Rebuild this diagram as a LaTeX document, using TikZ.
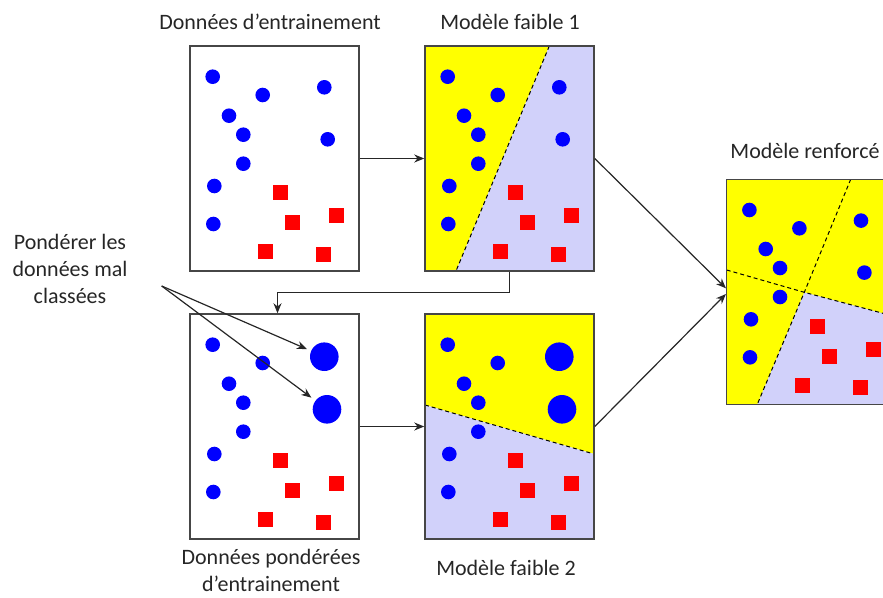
\documentclass[tikz,border=0pt]{standalone}
\usepackage{fontspec}
\setmainfont{Carlito}
\usetikzlibrary{arrows.meta,calc}
\definecolor{jaune}{RGB}{255,255,0}
\definecolor{lavande}{RGB}{209,209,250}
\definecolor{bord}{RGB}{70,70,70}
\definecolor{bleu}{RGB}{0,0,255}
\definecolor{rouge}{RGB}{255,0,0}

% points communs a tous les panneaux (coordonnees depuis le coin haut gauche)
\newcommand{\nuage}{%
  \foreach \x/\y in {22.7/30.7,72.7/49,39/69.7,53.3/88.7,53.3/117.7,24.3/140,23.3/178}
    \fill[bleu] (\x,\y) circle (7.3);
  \foreach \x/\y in {90.7/146.7,102.7/176.7,146.3/169.7,75.3/205.7,133.7/208.3}
    \fill[rouge] (\x-7.5,\y-7.5) rectangle ++(15,15);
}

\tikzset{
  panneau/.style={draw=bord,line width=1.5pt,minimum width=169pt,minimum height=225pt,inner sep=0pt},
  titre/.style={font=\fontsize{22}{26.7}\selectfont,inner sep=0pt,text=black!85},
  fleche/.style={draw=black!85,line width=1.2pt,-{Stealth[length=10pt,width=8pt]}},
  separation/.style={black,line width=1pt,dash pattern=on 4pt off 3pt},
  gros/.style={circle,fill=bleu,minimum size=28.6pt,inner sep=0pt}
}

\begin{document}
\begin{tikzpicture}[x=1pt,y=-1pt]
  \useasboundingbox (0,0) rectangle (883,597);
  \clip (0,0) rectangle (883,597);

  % donnees d'entrainement
  \begin{scope}[shift={(190,46)}]
    \nuage
    \fill[bleu] (134.3,41.3) circle (7.3);
    \fill[bleu] (137.7,93.3) circle (7.3);
  \end{scope}

  % modele faible 1
  \begin{scope}[shift={(425,46)}]
    \fill[jaune] (0,0) -- (124.3,0) -- (31,225) -- (0,225) -- cycle;
    \fill[lavande] (124.3,0) -- (169,0) -- (169,225) -- (31,225) -- cycle;
    \draw[separation] (124.3,0) -- (31,225);
    \nuage
    \fill[bleu] (134.3,41.3) circle (7.3);
    \fill[bleu] (137.7,93.3) circle (7.3);
  \end{scope}

  % donnees ponderees
  \begin{scope}[shift={(190,314)}]
    \nuage
    \node[gros] (g1) at (134.3,42.7) {};
    \node[gros] (g2) at (137,95.3) {};
  \end{scope}

  % modele faible 2
  \begin{scope}[shift={(425,314)}]
    \fill[jaune] (0,0) -- (169,0) -- (169,140) -- (0,91) -- cycle;
    \fill[lavande] (0,91) -- (169,140) -- (169,225) -- (0,225) -- cycle;
    \draw[separation] (0,91) -- (169,140);
    \nuage
    \fill[bleu] (134.3,42.7) circle (14.3);
    \fill[bleu] (137,95.3) circle (14.3);
  \end{scope}

  % modele renforce
  \begin{scope}[shift={(726.7,179.3)}]
    \fill[jaune] (0,0) rectangle (169,225);
    \fill[lavande] (77.6,113) -- (169,137.4) -- (169,225) -- (30.6,225) -- cycle;
    \draw[separation] (0,90.7) -- (77.6,113) -- (169,137.4);
    \draw[separation] (124,0) -- (77.6,113) -- (30.6,225);
    \nuage
    \fill[bleu] (134.3,41.3) circle (7.3);
    \fill[bleu] (137.7,93.3) circle (7.3);
  \end{scope}

  \node[panneau] (A) at (274.5,158.5) {};
  \node[panneau] (B) at (509.5,158.5) {};
  \node[panneau] (C) at (274.5,426.5) {};
  \node[panneau] (D) at (509.5,426.5) {};
  \node[panneau] (E) at (811.2,291.8) {};

  \node[titre,anchor=base] (tA) at (270,29) {Données d’entrainement};
  \node[titre,anchor=base] (tB) at (510,29) {Modèle faible 1};
  \node[titre,anchor=base] (tE) at (805,158) {Modèle renforcé};
  \node[titre,anchor=base,align=center] (tP) at (70,303.3) {Pondérer les\\données mal\\classées};
  \node[titre,anchor=base,align=center] (tC) at (271,591.5) {Données pondérées\\d’entrainement};
  \node[titre,anchor=base] (tD) at (506,575) {Modèle faible 2};

  \coordinate (pl) at (161.7,286);

  \draw[fleche] (A.east) -- (B.west);
  \draw[fleche] (C.east) -- (D.west);
  \draw[fleche] (B.south) -- ++(0,21) -| ($(C.north)+(3,0)$);
  \draw[fleche] (B.east) -- ($(E.west)+(0,-3.5)$);
  \draw[fleche] (D.east) -- ($(E.west)+(0,2.2)$);
  \draw[fleche,shorten >=4.5pt] (pl) -- (g1);
  \draw[fleche,shorten >=5pt] (pl) -- (g2);
\end{tikzpicture}
\end{document}
